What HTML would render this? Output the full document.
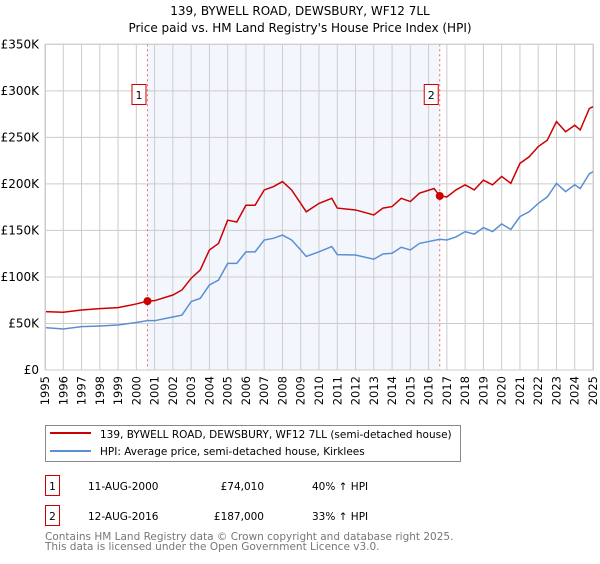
<!DOCTYPE html>
<html><head><meta charset="utf-8"><style>
body{margin:0;background:#fff;font-family:"DejaVu Sans","Liberation Sans",sans-serif;}
svg text{font-family:"DejaVu Sans","Liberation Sans",sans-serif;}
</style></head><body>
<svg id="chart" width="600" height="560" xmlns="http://www.w3.org/2000/svg">
<text x="300" y="15" text-anchor="middle" font-size="12">139, BYWELL ROAD, DEWSBURY, WF12 7LL</text>
<text x="300" y="32" text-anchor="middle" font-size="12">Price paid vs. HM Land Registry's House Price Index (HPI)</text>
<g id="plot"></g>
<g>
<rect x="45.5" y="425.5" width="415" height="36" fill="#fff" stroke="#888"/>
<line x1="50" y1="433" x2="91" y2="433" stroke="#cc0000" stroke-width="2"/>
<text x="100" y="438" font-size="10.5">139, BYWELL ROAD, DEWSBURY, WF12 7LL (semi-detached house)</text>
<line x1="50" y1="451" x2="91" y2="451" stroke="#5b8fd4" stroke-width="2"/>
<text x="100" y="455" font-size="10.5">HPI: Average price, semi-detached house, Kirklees</text>
</g>
<g font-size="10.5">
<rect x="45.5" y="475.5" width="14" height="20" fill="#fff" stroke="#cc0000"/>
<text x="52.5" y="490" text-anchor="middle">1</text>
<text x="88" y="490">11-AUG-2000</text>
<text x="264" y="490" text-anchor="end">£74,010</text>
<text x="312" y="490">40% ↑ HPI</text>
<rect x="45.5" y="505.5" width="14" height="20" fill="#fff" stroke="#cc0000"/>
<text x="52.5" y="520" text-anchor="middle">2</text>
<text x="88" y="520">12-AUG-2016</text>
<text x="264" y="520" text-anchor="end">£187,000</text>
<text x="312" y="520">33% ↑ HPI</text>
</g>
<text x="45" y="540" font-size="10.5" fill="#777">Contains HM Land Registry data © Crown copyright and database right 2025.</text>
<text x="45" y="550" font-size="10.5" fill="#777">This data is licensed under the Open Government Licence v3.0.</text>
</svg>
<script>
const yearTicks=[1995,1996,1997,1998,1999,2000,2001,2002,2003,2004,2005,2006,2007,2008,2009,2010,2011,2012,2013,2014,2015,2016,2017,2018,2019,2020,2021,2022,2023,2024,2025];
const valueTicks=[0,50,100,150,200,250,300,350];
const valueTickLabels=["£0","£50K","£100K","£150K","£200K","£250K","£300K","£350K"];
const propYears=[1995,1996,1997,1998,1999,2000,2000.61,2001,2002,2002.5,2003,2003.5,2004,2004.5,2005,2005.5,2006,2006.5,2007,2007.5,2008,2008.5,2009,2009.3,2010,2010.7,2011,2012,2013,2013.5,2014,2014.5,2015,2015.5,2016.3,2016.61,2017,2017.5,2018,2018.5,2019,2019.5,2020,2020.5,2021,2021.5,2022,2022.5,2023,2023.5,2024,2024.3,2024.8,2025];
const propValues=[62.7,62,64.5,66,67,71,74,74.5,80.6,86,98.5,107.5,129,136,161,159,177,177,193.5,197,202.5,193.5,179,170,179,184.5,174,172,166.6,174,175.6,184.5,181,190,195,187,186,193.5,199,193.5,204,199,208,200.6,222,229,240,247,267,256,263,258,281,283];
const hpiYears=[1995,1996,1997,1998,1999,2000,2000.61,2001,2002,2002.5,2003,2003.5,2004,2004.5,2005,2005.5,2006,2006.5,2007,2007.5,2008,2008.5,2009,2009.3,2010,2010.7,2011,2012,2013,2013.5,2014,2014.5,2015,2015.5,2016.61,2017,2017.5,2018,2018.5,2019,2019.5,2020,2020.5,2021,2021.5,2022,2022.5,2023,2023.5,2024,2024.3,2024.8,2025];
const hpiValues=[45.5,44,46.6,47.3,48.4,51,53,53,57,59,73.5,77,91.4,96.7,114.6,114.6,127,127,139.7,141.5,145,139.7,129,122,127,132.6,124,123.6,119,124.7,125.4,131.9,129,136,140.5,139.7,143,148.7,146,153,148.7,157,151,164.8,170,179,186,200.6,191.7,199,195,211,213];
const saleYears=[2000.61,2016.61];
const saleValues=[74.01,187];
const saleLabels=["1","2"];

const NS="http://www.w3.org/2000/svg";
const X0=45,X1=593,Y0=370,Y1=44.3;
const xs=y=>X0+(y-1995)/30*(X1-X0);
const ys=v=>Y0-v/350*(Y0-Y1);
const plot=document.getElementById('plot');
function mk(tag,attrs,parent){const e=document.createElementNS(NS,tag);for(const k in attrs)e.setAttribute(k,attrs[k]);(parent||plot).appendChild(e);return e;}
const sh=mk('rect',{x:xs(saleYears[0]),y:Y1,width:xs(saleYears[1])-xs(saleYears[0]),height:Y0-Y1,fill:'#eef3fc',opacity:0.7});


yearTicks.forEach(y=>{
  const l=mk('line',{x1:xs(y),x2:xs(y),y1:Y1,y2:Y0,stroke:'#cccccc','stroke-width':1});
  
  
  const t=mk('text',{x:0,y:0,'font-size':11.5,'text-anchor':'end',transform:`translate(${xs(y)+4},${Y0+6}) rotate(-90)`});
  t.textContent=y;
  
  
});
valueTicks.forEach((v,i)=>{
  const l=mk('line',{x1:X0,x2:X1,y1:ys(v),y2:ys(v),stroke:'#cccccc','stroke-width':1});
  
  
  const t=mk('text',{x:39,y:ys(v)+4,'font-size':12,'text-anchor':'end'});
  t.textContent=valueTickLabels[i];
  
  
});
saleYears.forEach((y,i)=>{
  const l=mk('line',{x1:xs(y),x2:xs(y),y1:Y1,y2:Y0,stroke:'#ee6666','stroke-dasharray':'2,3'});
  
  
});
const hp=mk('polyline',{points:hpiYears.map((y,i)=>xs(y)+','+ys(hpiValues[i])).join(' '),fill:'none',stroke:'#5b8fd4','stroke-width':1.5});


const pp=mk('polyline',{points:propYears.map((y,i)=>xs(y)+','+ys(propValues[i])).join(' '),fill:'none',stroke:'#cc0000','stroke-width':1.5});


saleYears.forEach((y,i)=>{
  const c=mk('circle',{cx:xs(y),cy:ys(saleValues[i]),r:4,fill:'#cc0000'});
  
  
  const r=mk('rect',{x:xs(y)-15.5,y:84.5,width:14,height:20,fill:'#fff',stroke:'#cc0000'});
  
  
  const t=mk('text',{x:xs(y)-8.5,y:99,'font-size':11,'text-anchor':'middle'});
  t.textContent=saleLabels[i];
  
  
});
const bx=mk('rect',{x:X0+0.5,y:Y1,width:X1-X0,height:Y0-Y1,fill:'none',stroke:'#cccccc'});


</script>
</body></html>
